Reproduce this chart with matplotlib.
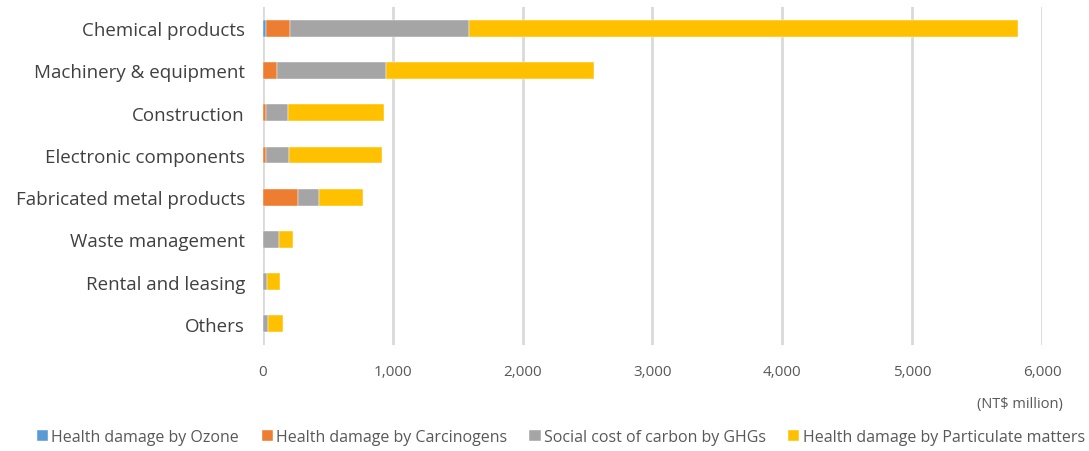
import numpy as np
import matplotlib
matplotlib.use("Agg")
import matplotlib.pyplot as plt
from matplotlib import ticker as mticker

plt.rcParams["font.family"] = ["Open Sans", "DejaVu Sans"]

# sectors, top to bottom
SECTORS = [
    "Chemical products",
    "Machinery & equipment",
    "Construction",
    "Electronic components",
    "Fabricated metal products",
    "Waste management",
    "Rental and leasing",
    "Others",
]

# NT$ million per damage category
OZONE = [20, 3, 2, 2, 2, 1, 1, 1]
CARCINOGENS = [190, 102, 18, 18, 270, 2, 2, 2]
GHGS = [1380, 841, 170, 182, 161, 122, 30, 38]
PARTICULATES = [4225, 1602, 741, 711, 334, 103, 95, 115]

SERIES = [
    ("Health damage by Ozone", OZONE, "#5b9bd5"),
    ("Health damage by Carcinogens", CARCINOGENS, "#ed7d31"),
    ("Social cost of carbon by GHGs", GHGS, "#a5a5a5"),
    ("Health damage by Particulate matters", PARTICULATES, "#ffc000"),
]

fig = plt.figure(figsize=(10.89, 4.52), dpi=100)
ax = fig.add_axes([0.2415, 0.2345, 0.7153, 0.7475])

y = np.arange(len(SECTORS))
left = np.zeros(len(SECTORS))
for name, vals, col in SERIES:
    vals = np.array(vals, dtype=float)
    ax.barh(y, vals, left=left, height=0.4, color=col, label=name,
            edgecolor="white", linewidth=0.3, zorder=3)
    left += vals

ax.set_ylim(len(SECTORS) - 0.5, -0.5)
ax.set_xlim(0, 6000)
ax.set_yticks(y)
ax.set_yticklabels(SECTORS, fontsize=13.5, color="#404040")
ax.xaxis.set_major_locator(mticker.MultipleLocator(1000))
ax.xaxis.set_major_formatter(mticker.StrMethodFormatter("{x:,.0f}"))
ax.tick_params(axis="x", labelsize=11, labelcolor="#595959", length=0, pad=14)
ax.tick_params(axis="y", length=0, pad=13)

ax.grid(axis="x", color="#d9d9d9", linewidth=2, zorder=0)
for s in ax.spines.values():
    s.set_visible(False)

fig.text(0.937, 0.105, "(NT$ million)", ha="center", va="center",
         fontsize=10.5, color="#595959")

fig.legend(loc="center", bbox_to_anchor=(0.515, 0.031),
           ncol=4, frameon=False, fontsize=11.5, handlelength=0.7,
           handleheight=0.7, handletextpad=0.2, columnspacing=1.4,
           labelcolor="#595959", borderpad=0)

fig.savefig("out.png", dpi=100)
